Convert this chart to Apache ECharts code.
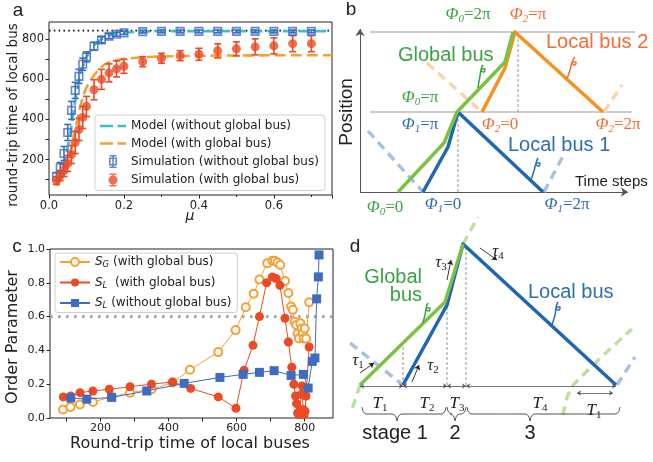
<!DOCTYPE html>
<html><head><meta charset="utf-8">
<script src="https://cdn.jsdelivr.net/npm/echarts@6/dist/echarts.min.js"></script>
<style>html,body{margin:0;padding:0;background:#fff}#c{width:653px;height:462px}</style>
</head><body><div id="c"></div>
<script>
// ---------------- Panel a data ----------------
const muSim = [0.02,0.03,0.04,0.05,0.06,0.07,0.08,0.09,0.10,0.12,0.14,0.16,0.18,0.20,0.25,0.30,0.35,0.40,0.45,0.50,0.55,0.60,0.65,0.70];
const simNoGlobal = [115,160,230,335,445,545,615,675,712,765,797,815,825,832,838,839,839,839,839,839,839,839,839,839];
const errNoGlobal = [20,25,35,40,45,40,35,30,25,20,15,12,10,8,7,7,7,7,7,7,7,7,7,7];
const simGlobal = [95,120,145,180,225,285,350,410,465,548,600,632,652,665,688,705,718,725,742,752,762,767,778,778];
const errGlobal = [20,25,30,40,45,55,55,55,50,50,50,45,40,35,25,25,25,30,35,35,40,40,40,40];
const muModel = [0.02,0.03,0.04,0.05,0.06,0.07,0.08,0.09,0.10,0.12,0.14,0.16,0.18,0.20,0.25,0.30,0.40,0.50,0.60,0.755];
const modelNoGlobal = [85,120,175,260,370,490,590,660,710,770,800,818,828,833,838,840,840,840,840,840];
const modelGlobal = [70,95,130,185,260,350,440,510,560,620,662,685,695,702,710,714,717,719,720,720];
const plateauLevel = 843;
const aYLabels = [200,400,600,800];
const aYTicks = [100,200,300,400,500,600,700,800];

// ---------------- Panel c data ----------------
const sgX = [90,112,140,178,233,287,350,412,463,546,597,627,650,667,690,705,712,720,728,742,752,760,765,770,775,779,783,787,791,794,797,800,804,813];
const sgY = [0.05,0.065,0.08,0.095,0.125,0.15,0.17,0.21,0.285,0.39,0.52,0.655,0.735,0.82,0.915,0.93,0.93,0.92,0.905,0.81,0.74,0.66,0.64,0.57,0.55,0.5,0.47,0.56,0.53,0.5,0.47,0.53,0.47,0.685];
const slgX = [91,113,140,178,226,287,350,412,465,546,598,622,648,667,688,705,716,727,742,752,762,768,773,776,779,782,785,788,790,792,795,798,801,804,813];
const slgY = [0.125,0.13,0.15,0.16,0.17,0.185,0.2,0.213,0.175,0.125,0.058,0.283,0.43,0.6,0.8,0.835,0.825,0.785,0.59,0.45,0.3,0.2,0.13,0.085,0.03,0.02,0.04,0.03,0.14,0.19,0.05,0.02,0.04,0.13,0.42];
const slnX = [113,160,233,336,446,551,619,667,710,760,796,810,822,830,835,840,842];
const slnY = [0.118,0.112,0.122,0.16,0.205,0.24,0.258,0.27,0.28,0.252,0.258,0.177,0.335,0.355,0.705,0.835,0.965];
const threshold = 0.6;
const cXLabels = [200,400,600,800];
const cXTicks = [100,200,300,400,500,600,700,800];

// ---------------- Panel b schematic (time steps, position) ----------------
const bGlobal = [[38,0],[84,49],[97,80],[145,130],[153,160]];
const bLocal1 = [[63,0],[88,45],[98,80],[183,0]];
const bLocal2 = [[122,80],[145,124],[155,160],[243,80]];
const bLocal1Ghost = [[[8,61],[63,0]],[[184,0],[203,36]]];
const bLocal2Ghost = [[[67,129],[122,80]],[[244,80],[262,107]]];
const bLevels = [[[10,160],[275,160]],[[10,80],[272,80]]];
const bGuides = [[[98,0],[98,80]],[[158,80],[158,160]]];
const bAxes = [[[0,0],[0,163]],[[0,0],[268,0]]];
const bHooks = [
  {c:'#3aa344', p:[[123,127],[121,122],[124,120],[125,123],[122,123],[120,116],[118,104]]},
  {c:'#f26d35', p:[[215,135],[212,129],[215,127],[216,130],[213,130],[210,122],[207,113]]},
  {c:'#2f6db5', p:[[178,34],[176,28],[179,26],[180,29],[177,29],[174,21],[171,12]]}
];

// ---------------- Panel d schematic ----------------
const dGlobal = [[0,0],[85,83],[103,141]];
const dLocal = [[43,0],[87,80],[103,141],[256,0]];
const dGlobalGhost = [[[0,0],[-4,-12],[-9,-28]],[[103,141],[118,168]],[[203,-30],[208,-10],[216,3],[272,56]]];
const dLocalGhost = [[[-10,42],[43,0]],[[257,0],[275,28]]];
const dGuides = [[[43,0],[43,40]],[[87,0],[87,80]],[[106,0],[106,140]]];
const dSpans = [[[0,-1],[43,-1]],[[43,-1],[87,-1]],[[87,-1],[106,-1]],[[106,-1],[256,-1]],[[217,-8],[253,-8]]];
const dBraces = [[2,37,86],[87,95,106],[107,170,260]];
const dTauArrows = [[[0,12],[14,22]],[[52,3],[59,20]],[[87,105],[91,125]],[[120,137],[137,125]]];
const dHooks = [
  {c:'#3aa344', p:[[68,82],[66,76],[69,74],[70,77],[67,77],[65,70],[63,62]]},
  {c:'#2f6db5', p:[[198,83],[196,77],[199,75],[200,78],[197,78],[195,70],[192,60]]}
];

// ---------------- styling ----------------
const SANS = 'DejaVu Sans', ARIAL = 'Liberation Sans', SERIF = 'Liberation Serif';
const CYAN = '#38c0c4', ORANGE = '#f7a033', BLUE = '#3f6cc0', RED = '#ea4b25';
const G_LINE = '#7cc242', B_LINE = '#1f67b0', O_LINE = '#f7921e';
const G_TXT = '#3aa344', B_TXT = '#2f6db5', O_TXT = '#f26d35';
const G_GH = '#bfe09c', B_GH = '#abbfe4', O_GH = '#fbd3ac';

// legend icons (26 x 13 box)
const EDGE = 'M0,6.5h0.01v0.01h-0.01z M25.99,6.5h0.01v0.01h-0.01z ';
const BAR = 'M12.2,0h1.6v13h-1.6z M9.5,0h7v1.5h-7z M9.5,11.5h7v1.5h-7z ';
const ICON_DASH = 'path://M0,0h13v2.6h-13z M17.5,0h8.5v2.6h-8.5z';
const ICON_SQ = 'path://' + EDGE + BAR + 'M9,2.5H17V10.5H9Z M10.6,4.1V8.9H15.4V4.1Z';
const ICON_CI = 'path://' + EDGE + BAR + 'M8.5,6.5A4.5,4.5 0 1 1 17.5,6.5A4.5,4.5 0 1 1 8.5,6.5Z';

function path(g, pts, color, width, dash, z, smooth) {
  return {type:'line', xAxisIndex:g, yAxisIndex:g, data:pts, symbol:'none', showSymbol:false,
    smooth: smooth || false, clip:false, silent:true, z: z || 2,
    lineStyle:{color:color, width:width, type:dash || 'solid', cap:'butt', join:'round'}};
}
function arrows(g, segs, color, width, syms, size, z) {
  return {type:'lines', coordinateSystem:'cartesian2d', xAxisIndex:g, yAxisIndex:g, silent:true, z: z || 3,
    symbol:syms, symbolSize:size, data: segs.map(s => ({coords:s})),
    lineStyle:{color:color, width:width, opacity:1, curveness:0}};
}
function errBars(g, xs, ys, es, color, name) {
  return {type:'custom', name:name, xAxisIndex:g, yAxisIndex:g, z:3, silent:true,
    encode:{x:0, y:[1,2]},
    data: xs.map((x,i) => [x, ys[i]-es[i], ys[i]+es[i]]),
    renderItem: function(params, api) {
      const lo = api.coord([api.value(0), api.value(1)]);
      const hi = api.coord([api.value(0), api.value(2)]);
      const w = 3.5, st = {stroke:color, lineWidth:1.6};
      return {type:'group', children:[
        {type:'line', shape:{x1:lo[0], y1:lo[1], x2:hi[0], y2:hi[1]}, style:st},
        {type:'line', shape:{x1:lo[0]-w, y1:lo[1], x2:lo[0]+w, y2:lo[1]}, style:st},
        {type:'line', shape:{x1:hi[0]-w, y1:hi[1], x2:hi[0]+w, y2:hi[1]}, style:st}
      ]};
    }};
}
function brace(a, c, b) {
  return [[a,-22],[a+1.5,-27],[a+5,-29],[c-5,-29],[c-1.5,-31],[c,-36],[c+1.5,-31],[c+5,-29],[b-5,-29],[b-1.5,-27],[b,-22]];
}

const series = [];
// ---- panel a ----
series.push(path(0, [[0, plateauLevel],[0.755, plateauLevel]], '#111', 1.6, [1.6,3.2], 1));
series.push(Object.assign(path(0, muModel.map((m,i)=>[m, modelNoGlobal[i]]), CYAN, 2.6, [11,5], 2), {name:'Model (without global bus)', smooth:0.2, itemStyle:{color:CYAN}}));
series.push(Object.assign(path(0, muModel.map((m,i)=>[m, modelGlobal[i]]), ORANGE, 2.6, [11,5], 2), {name:'Model (with global bus)', smooth:0.2, itemStyle:{color:ORANGE}}));
series.push(errBars(0, muSim, simNoGlobal, errNoGlobal, BLUE, 'ebN'));
series.push(errBars(0, muSim, simGlobal, errGlobal, RED, 'ebG'));
series.push({type:'scatter', name:'Simulation (without global bus)', xAxisIndex:0, yAxisIndex:0, z:4,
  data: muSim.map((m,i)=>[m, simNoGlobal[i]]), symbol:'rect', symbolSize:7.5,
  itemStyle:{color:'rgba(255,255,255,0)', borderColor:BLUE, borderWidth:1.6}});
series.push({type:'scatter', name:'Simulation (with global bus)', xAxisIndex:0, yAxisIndex:0, z:4,
  data: muSim.map((m,i)=>[m, simGlobal[i]]), symbol:'circle', symbolSize:9,
  itemStyle:{color:RED}});
// ---- panel c ----
series.push(path(1, [[52, threshold],[883, threshold]], '#a0a0a0', 2.6, [2.6,5.4], 1));
series.push({type:'line', name:'SG', xAxisIndex:1, yAxisIndex:1, z:3, data: sgX.map((x,i)=>[x, sgY[i]]),
  symbol:'emptyCircle', symbolSize:8, showAllSymbol:true, lineStyle:{color:ORANGE, width:1},
  itemStyle:{color:ORANGE, borderColor:ORANGE, borderWidth:1.8}});
series.push({type:'line', name:'SLg', xAxisIndex:1, yAxisIndex:1, z:4, data: slgX.map((x,i)=>[x, slgY[i]]),
  symbol:'circle', symbolSize:9, showAllSymbol:true, lineStyle:{color:RED, width:1}, itemStyle:{color:RED}});
series.push({type:'line', name:'SLn', xAxisIndex:1, yAxisIndex:1, z:5, data: slnX.map((x,i)=>[x, slnY[i]]),
  symbol:'rect', symbolSize:9, showAllSymbol:true, lineStyle:{color:BLUE, width:1}, itemStyle:{color:BLUE}});
// ---- panel b ----
bLevels.forEach(s => series.push(path(2, s, '#9a9a9a', 1, 'solid', 1)));
bGuides.forEach(s => series.push(path(2, s, '#8a8a8a', 0.9, [3,2], 1)));
series.push(arrows(2, bAxes, '#555', 1, ['none','arrow'], 7, 1));
bLocal1Ghost.forEach(s => series.push(path(2, s, B_GH, 3.5, [9,6], 1)));
bLocal2Ghost.forEach(s => series.push(path(2, s, O_GH, 3.5, [9,6], 1)));
series.push(path(2, bLocal2, O_LINE, 3.5, 'solid', 3));
series.push(path(2, bLocal1, B_LINE, 3.5, 'solid', 3));
series.push(path(2, bGlobal, G_LINE, 3.5, 'solid', 4));
bHooks.forEach(h => series.push(path(2, h.p, h.c, 1.5, 'solid', 5, 0.5)));
// ---- panel d ----
dGlobalGhost.forEach(s => series.push(path(3, s, G_GH, 3.5, [9,6], 1, 0.4)));
dLocalGhost.forEach(s => series.push(path(3, s, B_GH, 3.5, [9,6], 1)));
dGuides.forEach(s => series.push(path(3, s, '#8a8a8a', 0.9, [3,2], 1)));
series.push(path(3, dLocal, B_LINE, 3.5, 'solid', 3));
series.push(path(3, dGlobal, G_LINE, 3.5, 'solid', 4));
series.push(arrows(3, dSpans, '#555', 0.8, ['arrow','arrow'], 4, 2));
series.push(arrows(3, dTauArrows, '#222', 0.9, ['none','arrow'], 5, 5));
dBraces.forEach(b => series.push(path(3, brace(b[0], b[1], b[2]), '#555', 1, 'solid', 2, 0.35)));
dHooks.forEach(h => series.push(path(3, h.p, h.c, 1.5, 'solid', 5, 0.5)));

// ---------------- texts ----------------
function T(x, y, text, o) {
  o = o || {};
  return {type:'text', x:x, y:y, rotation:o.rot || 0, z:100, silent:true,
    style:{text:text, fill:o.fill || '#222', fontSize:o.size || 12, fontFamily:o.font || SANS,
      fontStyle:o.style || 'normal', align:o.align || 'center', verticalAlign:'middle', rich:o.rich}};
}
function phi(x, y, sub, rest, col) {
  return T(x, y, '{f|Φ}{s|' + sub + '}{e|' + rest + '}', {rich:{
    f:{fontFamily:SERIF, fontStyle:'italic', fontSize:17, fill:col, lineHeight:20},
    s:{fontFamily:SERIF, fontStyle:'italic', fontSize:11, fill:col, lineHeight:20, verticalAlign:'bottom', padding:[7,0,0,0]},
    e:{fontFamily:SERIF, fontSize:17, fill:col, lineHeight:20}}});
}
function sym(x, y, base, sub, italic) {
  return T(x, y, '{f|' + base + '}{s|' + sub + '}', {rich:{
    f:{fontFamily:SERIF, fontStyle:italic ? 'italic' : 'normal', fontSize:17, fill:'#222', lineHeight:20},
    s:{fontFamily:SERIF, fontSize:11, fill:'#222', lineHeight:20, verticalAlign:'bottom', padding:[7,0,0,0]}}});
}
const graphics = [
  T(18, 11, 'a', {font:ARIAL, size:19}),
  T(351, 10, 'b', {font:ARIAL, size:19}),
  T(17, 247, 'c', {font:ARIAL, size:19}),
  T(355, 247, 'd', {font:ARIAL, size:19}),
  T(13, 115, 'round-trip time of local bus', {size:13.5, rot:Math.PI/2}),
  T(190, 216, 'μ', {size:14, style:'italic'}),
  T(13, 337, 'Order Parameter', {size:16, rot:Math.PI/2}),
  T(190, 444, 'Round-trip time of local buses', {size:16}),
  // panel b
  T(347, 112, 'Position', {font:ARIAL, size:19, rot:Math.PI/2}),
  T(575, 182, 'Time steps', {font:ARIAL, size:15, align:'left'}),
  T(398, 55, 'Global bus', {font:ARIAL, size:20, align:'left', fill:G_TXT}),
  T(546, 42, 'Local bus 2', {font:ARIAL, size:20, align:'left', fill:O_TXT}),
  T(508, 145, 'Local bus 1', {font:ARIAL, size:20, align:'left', fill:B_TXT}),
  phi(468, 15, '0', '=2π', G_TXT),
  phi(528, 15, '2', '=π', O_TXT),
  phi(420, 98, '0', '=π', G_TXT),
  phi(420, 125, '1', '=π', B_TXT),
  phi(500, 125, '2', '=0', O_TXT),
  phi(618, 125, '2', '=2π', O_TXT),
  phi(385, 208, '0', '=0', G_TXT),
  phi(443, 205, '1', '=0', B_TXT),
  phi(567, 205, '1', '=2π', B_TXT),
  // panel d
  T(422, 277, 'Global', {font:ARIAL, size:20, align:'right', fill:G_TXT}),
  T(422, 295, 'bus', {font:ARIAL, size:20, align:'right', fill:G_TXT}),
  T(528, 292, 'Local bus', {font:ARIAL, size:20, align:'left', fill:B_TXT}),
  sym(380, 404, 'T', '1', true), sym(427, 404, 'T', '2', true), sym(457, 404, 'T', '3', true),
  sym(540, 404, 'T', '4', true), sym(594, 411, 'T', '1', true),
  sym(358, 361, 'τ', '1', true), sym(433, 366, 'τ', '2', true), sym(441, 263, 'τ', '3', true), sym(498, 252, 'τ', '4', true),
  T(395, 433, 'stage 1', {font:ARIAL, size:20}),
  T(455, 433, '2', {font:ARIAL, size:20}),
  T(530, 433, '3', {font:ARIAL, size:20})
];

const hiddenX = (min, max, g) => ({type:'value', gridIndex:g, min:min, max:max, show:false});
const option = {
  animation:false,
  backgroundColor:'#fff',
  textStyle:{fontFamily:SANS},
  grid:[
    {left:49, top:22, width:283, height:173, show:true, borderColor:'#222', borderWidth:1, backgroundColor:'rgba(0,0,0,0)'},
    {left:50, top:249, width:283, height:169, show:true, borderColor:'#222', borderWidth:1, backgroundColor:'rgba(0,0,0,0)'},
    {left:330, top:0, width:323, height:230},
    {left:330, top:200, width:323, height:262}
  ],
  xAxis:[
    {type:'value', gridIndex:0, min:0, max:0.755, interval:0.2, axisLine:{show:false}, splitLine:{show:false},
      axisTick:{show:true, length:3.5, lineStyle:{color:'#222'}}, minorTick:{show:true, splitNumber:2, length:2, lineStyle:{color:'#222'}},
      axisLabel:{fontSize:11.5, color:'#222', margin:5, fontFamily:SANS, formatter:v => v.toFixed(1), showMaxLabel:false}},
    {type:'value', gridIndex:1, min:52, max:883, axisLine:{show:false}, splitLine:{show:false},
      axisTick:{show:true, length:3.5, customValues:cXTicks, lineStyle:{color:'#222'}},
      axisLabel:{fontSize:11, color:'#222', margin:5, fontFamily:SANS, customValues:cXLabels}},
    hiddenX(-30, 293, 2),
    hiddenX(-30, 293, 3)
  ],
  yAxis:[
    {type:'value', gridIndex:0, min:23, max:886, axisLine:{show:false}, splitLine:{show:false},
      axisTick:{show:true, length:3.5, customValues:aYTicks, lineStyle:{color:'#222'}},
      axisLabel:{fontSize:11.5, color:'#222', margin:5, fontFamily:SANS, customValues:aYLabels}},
    {type:'value', gridIndex:1, min:0, max:1, interval:0.2, axisLine:{show:false}, splitLine:{show:false},
      axisTick:{show:true, length:3.5, lineStyle:{color:'#222'}},
      axisLabel:{fontSize:11, color:'#222', margin:5, fontFamily:SANS, formatter:v => v.toFixed(1)}},
    {type:'value', gridIndex:2, min:-38, max:192, show:false},
    {type:'value', gridIndex:3, min:-77, max:185, show:false}
  ],
  legend:[
    {orient:'vertical', left:95, top:115, itemGap:5.5, itemWidth:26, itemHeight:13, symbolKeepAspect:true,
      data:[
        {name:'Model (without global bus)', icon:ICON_DASH, itemStyle:{color:CYAN, borderWidth:0}},
        {name:'Model (with global bus)', icon:ICON_DASH, itemStyle:{color:ORANGE, borderWidth:0}},
        {name:'Simulation (without global bus)', icon:ICON_SQ, itemStyle:{color:BLUE, borderWidth:0}},
        {name:'Simulation (with global bus)', icon:ICON_CI, itemStyle:{color:RED, borderWidth:0}}
      ],
      backgroundColor:'rgba(255,255,255,0.85)', borderColor:'#d0d0d0', borderWidth:1, borderRadius:3, padding:[5,6,4,5],
      textStyle:{fontSize:12, color:'#222', fontFamily:SANS}},
    {orient:'vertical', left:55, top:253, itemGap:7, itemWidth:30, itemHeight:10,
      data:['SG','SLg','SLn'],
      formatter: n => ({SG:'{i|S}{sub|G} (with global bus)', SLg:'{i|S}{sub|L}  (with global bus)', SLn:'{i|S}{sub|L} (without global bus)'})[n],
      backgroundColor:'rgba(255,255,255,0.85)', borderColor:'#d0d0d0', borderWidth:1, borderRadius:3, padding:[3,6,2,4],
      textStyle:{fontSize:12, color:'#222', fontFamily:SANS, rich:{
        i:{fontSize:12, fontStyle:'italic', fontFamily:SANS, color:'#222'},
        sub:{fontSize:8.5, fontStyle:'italic', fontFamily:SANS, color:'#222', verticalAlign:'bottom', padding:[6,0,0,0]}}}}
  ],
  series: series,
  graphic: graphics
};
const chart = echarts.init(document.getElementById('c'));
chart.setOption(option);
</script></body></html>
